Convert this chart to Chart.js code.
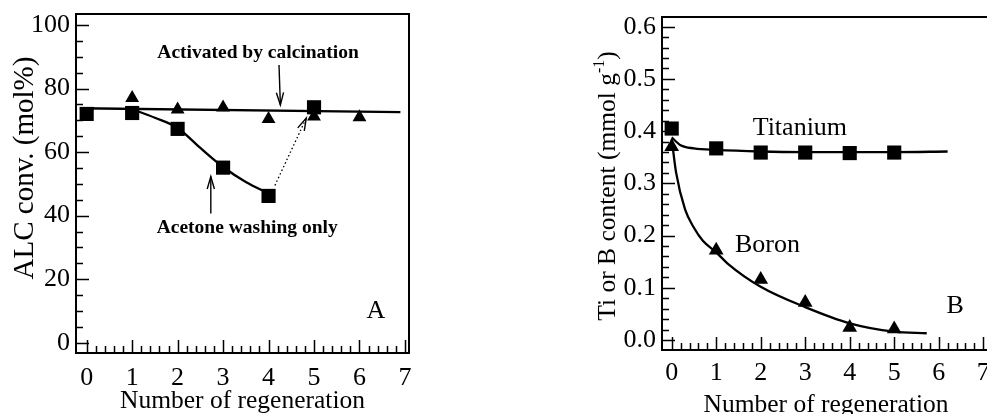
<!DOCTYPE html>
<html>
<head>
<meta charset="utf-8">
<script src="https://cdn.jsdelivr.net/npm/chart.js@4"></script>
<style>
    html, body { margin: 0; padding: 0; background: #fff; overflow: hidden; width: 987px; height: 414px; }
    body { position: relative; }
    #chartA { position: absolute; left: 0; top: 0; }
    #chartB { position: absolute; left: 560px; top: 0; }
</style>
</head>
<body>
<canvas id="chartA" width="440" height="414"></canvas>
<canvas id="chartB" width="440" height="414"></canvas>
<script>
const SERIF = "'Liberation Serif', 'Times New Roman', serif";

// shared tick labels
const regenTicks = [0, 1, 2, 3, 4, 5, 6, 7];
const convTicks = [0, 20, 40, 60, 80, 100];
const contentTicks = [0.0, 0.1, 0.2, 0.3, 0.4, 0.5, 0.6];

// panel A - ALC conversion
const calcRegen = [1, 2, 3, 4, 5, 6];
const calcConv = [77.0, 73.4, 74.0, 70.4, 71.2, 71.0];
const washRegen = [0, 1, 2, 3, 4, 5];
const washConv = [72.0, 72.3, 67.3, 55.1, 46.2, 74.1];
const calcFitX = [-0.15, 6.9];
const calcFitY = [73.8, 72.6];
const washFitX = [1.0, 1.5, 2.0, 2.5, 3.0, 3.5, 4.0];
const washFitY = [73.5, 70.8, 67.6, 61.3, 55.3, 50.6, 47.0];
const returnX = [4.14, 4.83];
const returnY = [49.5, 70.7];

// panel B - Ti and B content
const contentRegen = [0, 1, 2, 3, 4, 5];
const titanium = [0.405, 0.367, 0.359, 0.359, 0.358, 0.359];
const boron = [0.370, 0.172, 0.116, 0.072, 0.024, 0.021];
const tiFitX = [0, 0.2, 0.5, 1, 2, 3, 4, 5, 6.2];
const tiFitY = [0.388, 0.373, 0.367, 0.364, 0.361, 0.360, 0.360, 0.360, 0.361];
const bFitX = [0, 0.1, 0.3, 0.5, 0.7, 1.0, 1.25, 2, 3, 4, 5, 5.73];
const bFitY = [0.385, 0.32, 0.25, 0.215, 0.19, 0.168, 0.147, 0.102, 0.063, 0.032, 0.016, 0.013];

function pts(xs, ys) {
    return xs.map((x, i) => ({ x: x, y: ys[i] }));
}

function markers(xs, ys, style, radius) {
    return {
        data: pts(xs, ys),
        pointStyle: style,
        pointRadius: radius,
        pointBackgroundColor: "#000",
        pointBorderColor: "#000",
        pointBorderWidth: 0,
        showLine: false
    };
}

function curve(xs, ys, extra) {
    return Object.assign({
        data: pts(xs, ys),
        showLine: true,
        pointRadius: 0,
        borderColor: "#000",
        borderWidth: 2.3,
        cubicInterpolationMode: "monotone"
    }, extra || {});
}

function drawArrowHead(ctx, x1, y1, x2, y2, len, spread) {
    const ang = Math.atan2(y2 - y1, x2 - x1);
    ctx.beginPath();
    ctx.moveTo(x2 - len * Math.cos(ang - spread), y2 - len * Math.sin(ang - spread));
    ctx.lineTo(x2, y2);
    ctx.lineTo(x2 - len * Math.cos(ang + spread), y2 - len * Math.sin(ang + spread));
    ctx.stroke();
}

// frame, inward ticks, notes and rotated y title
function panelPlugin(cfg) {
    return {
        id: "panel",
        afterDraw(chart) {
            const ctx = chart.ctx;
            const area = chart.chartArea;
            const xs = chart.scales.x;
            const ys = chart.scales.y;
            ctx.save();
            ctx.strokeStyle = "#000";
            ctx.fillStyle = "#000";

            ctx.lineWidth = 1.5;
            ctx.beginPath();
            for (let v = cfg.xFrom; v <= cfg.xTo + 1e-9; v += cfg.xMinor) {
                const px = Math.round(xs.getPixelForValue(v)) + 0.5;
                const major = Math.abs(v - Math.round(v)) < 1e-6;
                ctx.moveTo(px, area.bottom);
                ctx.lineTo(px, area.bottom - (major ? 13 : 7));
            }
            for (let i = 0; i * cfg.yMinor <= cfg.yTo + 1e-9; i++) {
                const v = i * cfg.yMinor;
                const py = Math.round(ys.getPixelForValue(v)) + 0.5;
                const major = i % cfg.yEvery === 0;
                ctx.moveTo(area.left, py);
                ctx.lineTo(area.left + (major ? 13 : 7), py);
            }
            ctx.stroke();

            ctx.lineWidth = 2;
            ctx.strokeRect(area.left, area.top, area.right - area.left, area.bottom - area.top);

            ctx.textAlign = "center";
            ctx.textBaseline = "middle";
            cfg.notes.forEach((n) => {
                ctx.font = (n.bold ? "bold " : "") + n.size + "px " + SERIF;
                ctx.fillText(n.text, xs.getPixelForValue(n.x), ys.getPixelForValue(n.y));
            });

            ctx.lineWidth = 1.4;
            cfg.arrows.forEach((a) => {
                const x1 = xs.getPixelForValue(a.from[0]);
                const y1 = ys.getPixelForValue(a.from[1]);
                const x2 = xs.getPixelForValue(a.to[0]);
                const y2 = ys.getPixelForValue(a.to[1]);
                if (!a.headOnly) {
                    ctx.beginPath();
                    ctx.moveTo(x1, y1);
                    ctx.lineTo(x2, y2);
                    ctx.stroke();
                }
                drawArrowHead(ctx, x1, y1, x2, y2, 13, 0.28);
            });

            // y title, rotated, with optional superscript part
            const t = cfg.yTitle;
            ctx.translate(t.x, t.y);
            ctx.rotate(-Math.PI / 2);
            ctx.textAlign = "left";
            ctx.textBaseline = "alphabetic";
            let total = 0;
            t.parts.forEach((p) => {
                ctx.font = (p.sup ? t.size * 0.62 : t.size) + "px " + SERIF;
                p.w = ctx.measureText(p.text).width;
                total += p.w;
            });
            let cx = -total / 2;
            t.parts.forEach((p) => {
                ctx.font = (p.sup ? t.size * 0.62 : t.size) + "px " + SERIF;
                ctx.fillText(p.text, cx, p.sup ? -t.size * 0.45 : 0);
                cx += p.w;
            });
            ctx.restore();
        }
    };
}

function axisOptions(o) {
    return {
        x: {
            type: "linear",
            min: o.xMin,
            max: o.xMax,
            afterBuildTicks: (s) => { s.ticks = regenTicks.map((v) => ({ value: v })); },
            afterFit: (s) => { s.height = o.xHeight; s.paddingLeft = 0; s.paddingRight = 0; },
            grid: { display: false, drawTicks: false },
            border: { display: false },
            ticks: { color: "#000", font: { family: SERIF, size: 26 }, padding: o.xPad, maxRotation: 0, autoSkip: false },
            title: { display: true, text: "Number of regeneration", color: "#000",
                     font: { family: SERIF, size: 25.5, lineHeight: 1 }, padding: { top: 0, bottom: o.titlePad } }
        },
        y: {
            type: "linear",
            min: o.yMin,
            max: o.yMax,
            afterBuildTicks: (s) => { s.ticks = o.yTicks.map((v) => ({ value: v })); },
            afterFit: (s) => { s.width = o.yWidth; s.paddingTop = 0; s.paddingBottom = 0; },
            grid: { display: false, drawTicks: false },
            border: { display: false },
            ticks: { color: "#000", font: { family: SERIF, size: 26 }, padding: 6, autoSkip: false, callback: o.fmt }
        }
    };
}

const commonOptions = {
    responsive: false,
    animation: false,
    events: [],
    plugins: { legend: { display: false }, tooltip: { enabled: false } }
};

new Chart(document.getElementById("chartA"), {
    type: "scatter",
    data: {
        datasets: [
            markers(washRegen, washConv, "rect", 10),
            markers(calcRegen, calcConv, "triangle", 8),
            curve(washFitX, washFitY),
            curve(calcFitX, calcFitY, { cubicInterpolationMode: "default", tension: 0 }),
            curve(returnX, returnY, { borderWidth: 1.3, borderDash: [1.5, 2.5], tension: 0 })
        ]
    },
    options: Object.assign({}, commonOptions, {
        layout: { padding: { top: 14, right: 31, left: 0, bottom: 0 } },
        scales: axisOptions({
            xMin: -0.235, xMax: 7.089, xHeight: 61, xPad: 10, titlePad: 0,
            yMin: -3.24, yMax: 103.46, yWidth: 76, yTicks: convTicks,
            fmt: (v) => String(v)
        })
    }),
    plugins: [panelPlugin({
        xFrom: 0, xTo: 7, xMinor: 0.2, yMinor: 5, yEvery: 4, yTo: 100,
        notes: [
            { text: "Activated by calcination", x: 3.77, y: 91.2, bold: true, size: 19.5 },
            { text: "Acetone washing only", x: 3.53, y: 36.1, bold: true, size: 19.5 },
            { text: "A", x: 6.36, y: 10.0, size: 26 }
        ],
        arrows: [
            { from: [4.23, 87.4], to: [4.26, 74.8] },
            { from: [2.73, 40.7], to: [2.73, 52.3] },
            { from: [returnX[0], returnY[0]], to: [returnX[1], returnY[1]], headOnly: true }
        ],
        yTitle: { x: 33, y: 168, size: 29, parts: [{ text: "ALC conv. (mol%)" }] }
    })]
});

new Chart(document.getElementById("chartB"), {
    type: "scatter",
    data: {
        datasets: [
            markers(contentRegen, titanium, "rect", 10),
            markers(contentRegen, boron, "triangle", 8.5),
            curve(tiFitX, tiFitY),
            curve(bFitX, bFitY)
        ]
    },
    options: Object.assign({}, commonOptions, {
        layout: { padding: { top: 17, right: 10, left: 0, bottom: 0 } },
        scales: axisOptions({
            xMin: -0.218, xMax: 7.152, xHeight: 64, xPad: 8, titlePad: -4,
            yMin: -0.0191, yMax: 0.6186, yWidth: 102, yTicks: contentTicks,
            fmt: (v) => v.toFixed(1)
        })
    }),
    plugins: [panelPlugin({
        xFrom: 0, xTo: 7, xMinor: 0.2, yMinor: 0.02, yEvery: 5, yTo: 0.6,
        notes: [
            { text: "Titanium", x: 2.88, y: 0.405, size: 26 },
            { text: "Boron", x: 2.15, y: 0.181, size: 26 },
            { text: "B", x: 6.37, y: 0.064, size: 26 }
        ],
        arrows: [],
        yTitle: { x: 55, y: 186, size: 25.5,
                  parts: [{ text: "Ti or B content (mmol g" }, { text: "-1", sup: true }, { text: ")" }] }
    })]
});
</script>
</body>
</html>
